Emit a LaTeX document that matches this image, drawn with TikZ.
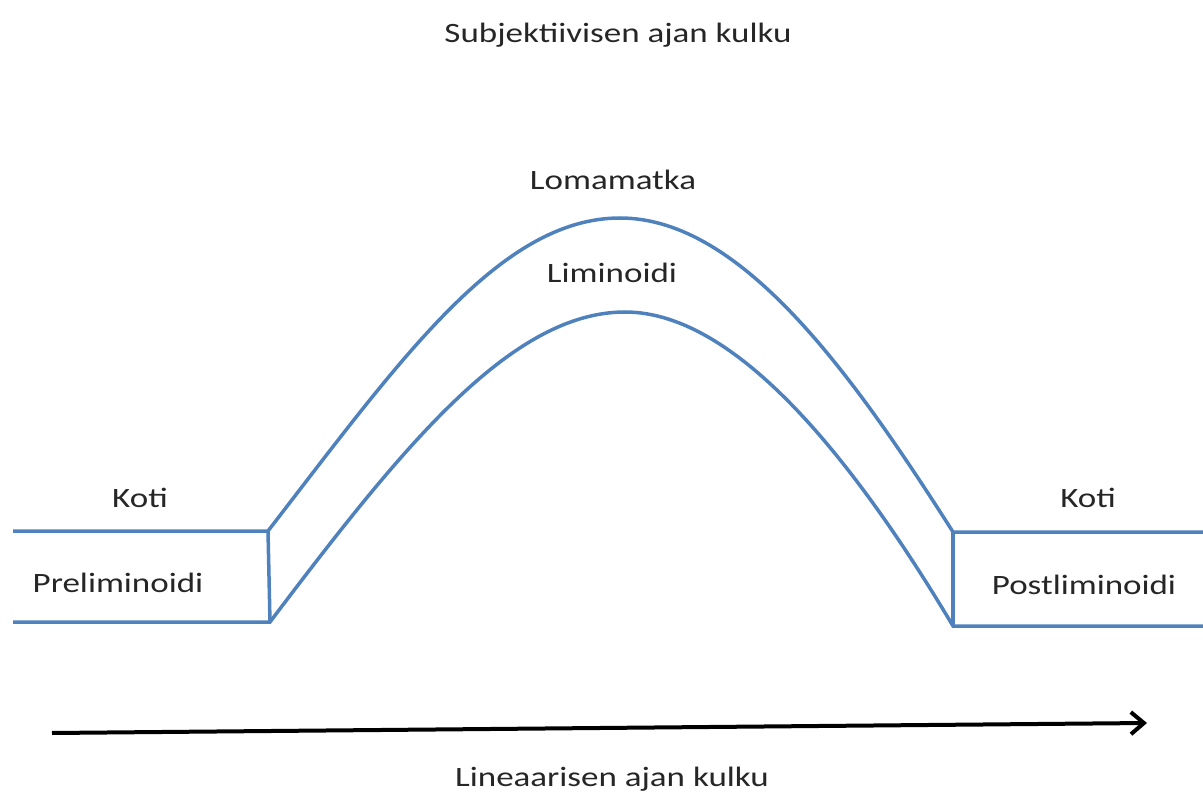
\documentclass[tikz,border=0pt]{standalone}
\usepackage{fontspec}
\setmainfont{Carlito}[FakeStretch=1.25]
\usetikzlibrary{arrows.meta}
\definecolor{lineblue}{RGB}{79,129,189}
\tikzset{
  bandline/.style={draw=lineblue, line width=3.5pt, line join=miter},
  lbl/.style={inner sep=0pt, anchor=base, font=\fontsize{28}{34}\selectfont, text=black!85},
  timearrow/.style={draw=black, line width=4pt, -{Straight Barb[length=13pt,width=22pt]}}
}
\begin{document}
\begin{tikzpicture}[x=1pt,y=-1pt]
\useasboundingbox (0,0) rectangle (1203,794);
% coordinates
\coordinate (lt0) at (13,531);
\coordinate (lb0) at (13,622);
\coordinate (lt) at (268,531);
\coordinate (lb) at (270,622);
\coordinate (rt) at (953,532);
\coordinate (rb) at (953,626);
\coordinate (rt1) at (1203,532);
\coordinate (rb1) at (1203,626);
\coordinate (atail) at (52,733);
\coordinate (ahead) at (1147,723);
% band
\draw[bandline] (lt0) -- (lt) .. controls (400,360) and (500,218) .. (620,218)
   .. controls (740,218) and (850,370) .. (rt) -- (rt1);
\draw[bandline] (lb0) -- (lb) .. controls (400,450) and (510,312) .. (625,312)
   .. controls (740,312) and (860,470) .. (rb) -- (rb1);
\draw[bandline] (lt) -- (lb);
\draw[bandline] (rt) -- (rb);
% labels
\node[lbl] (title) at (618,43) {Subjektiivisen ajan kulku};
\node[lbl] (loma) at (613,190) {Lomamatka};
\node[lbl] (limi) at (612,283) {Liminoidi};
\node[lbl] (kotil) at (140,507) {Koti};
\node[lbl] (prel) at (118,592) {Preliminoidi};
\node[lbl] (kotir) at (1088,507) {Koti};
\node[lbl] (post) at (1084,594) {Postliminoidi};
\node[lbl] (linea) at (612,786) {Lineaarisen ajan kulku};
% arrow
\draw[timearrow] (atail) -- (ahead);
\end{tikzpicture}
\end{document}
